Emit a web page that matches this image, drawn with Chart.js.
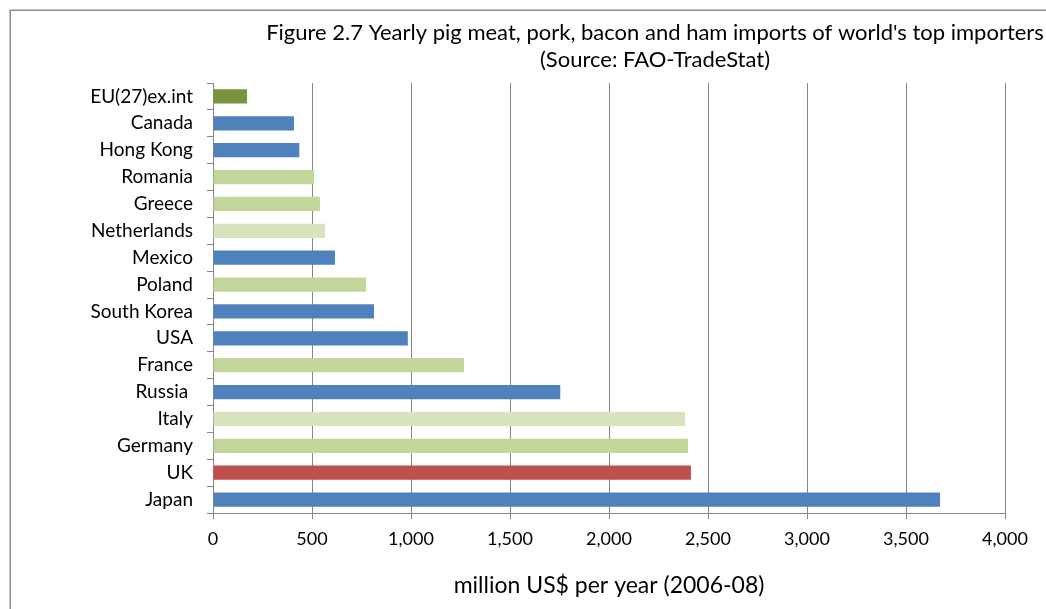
<!DOCTYPE html>
<html>
<head>
<meta charset="utf-8">
<script src="https://cdn.jsdelivr.net/npm/chart.js@4.4.1/dist/chart.umd.min.js"></script>
<style>
  html, body { margin: 0; padding: 0; background: #fff; overflow: hidden; }
  #wrap { width: 1046px; height: 609px; position: relative; }
</style>
</head>
<body>
<div id="wrap"><canvas id="c" width="1046" height="609"></canvas></div>
<script>
const categories = ["EU(27)ex.int", "Canada", "Hong Kong", "Romania", "Greece", "Netherlands", "Mexico", "Poland", "South Korea", "USA", "France", "Russia ", "Italy", "Germany", "UK", "Japan"];
const imports = [172, 409, 436, 510, 540, 566, 616, 773, 813, 984, 1268, 1754, 2384, 2399, 2414, 3672];
const barColors = ["#77933C", "#4F81BD", "#4F81BD", "#C3D69B", "#C3D69B", "#D7E4BD", "#4F81BD", "#C3D69B", "#4F81BD", "#4F81BD", "#C3D69B", "#4F81BD", "#D7E4BD", "#C3D69B", "#C0504D", "#4F81BD"];
const xTicks = [0, 500, 1000, 1500, 2000, 2500, 3000, 3500, 4000];
const titleLines = ["Figure 2.7 Yearly pig meat, pork, bacon and ham imports of world's top importers", "(Source: FAO-TradeStat)"];
const xAxisTitle = "million US$ per year (2006-08)";

const FONT = "Lato, 'Open Sans', sans-serif";
const GRID = "#868686";

const framePlugin = {
  id: "frame",
  beforeDraw(chart) {
    const ctx = chart.ctx;
    ctx.save();
    ctx.strokeStyle = "#8c8c8c";
    ctx.lineWidth = 1.5;
    ctx.strokeRect(10.25, 10.25, 1200, 800);
    ctx.restore();
  },
  afterDraw(chart) {
    const ctx = chart.ctx;
    ctx.save();
    ctx.fillStyle = "#000";
    ctx.textAlign = "center";
    ctx.textBaseline = "middle";
    ctx.font = "22px " + FONT;
    ctx.fillText(titleLines[0], 655, 33);
    ctx.fillText(titleLines[1], 655, 60);
    ctx.restore();
  }
};

new Chart(document.getElementById("c"), {
  type: "bar",
  data: {
    labels: categories,
    datasets: [{
      data: imports,
      backgroundColor: barColors,
      borderWidth: 0,
      categoryPercentage: 1.0,
      barPercentage: 0.53
    }]
  },
  plugins: [framePlugin],
  options: {
    indexAxis: "y",
    responsive: false,
    animation: false,
    devicePixelRatio: 1,
    layout: { padding: { left: 0, right: 41, top: 83, bottom: 0 } },
    plugins: {
      legend: { display: false },
      title: { display: false },
      tooltip: { enabled: false }
    },
    scales: {
      x: {
        type: "linear",
        min: 0,
        max: 4000,
        afterBuildTicks(scale) { scale.ticks = xTicks.map(v => ({ value: v })); },
        afterFit(scale) { scale.height = 96; },
        ticks: {
          color: "#000",
          font: { family: FONT, size: 18 },
          padding: 9,
          callback: v => v.toLocaleString("en-US")
        },
        grid: { color: GRID, lineWidth: 1, tickLength: 6, drawTicks: true },
        border: { color: GRID, width: 1 },
        title: {
          display: true,
          text: xAxisTitle,
          color: "#000",
          font: { family: FONT, size: 23 },
          padding: { top: 0, bottom: 10 }
        }
      },
      y: {
        afterFit(scale) { scale.width = 213; },
        ticks: {
          color: "#000",
          font: { family: FONT, size: 19 },
          padding: 14,
          autoSkip: false
        },
        grid: { color: GRID, drawOnChartArea: false, tickLength: 6, offset: true },
        border: { color: GRID, width: 1 }
      }
    }
  }
});
</script>
</body>
</html>
